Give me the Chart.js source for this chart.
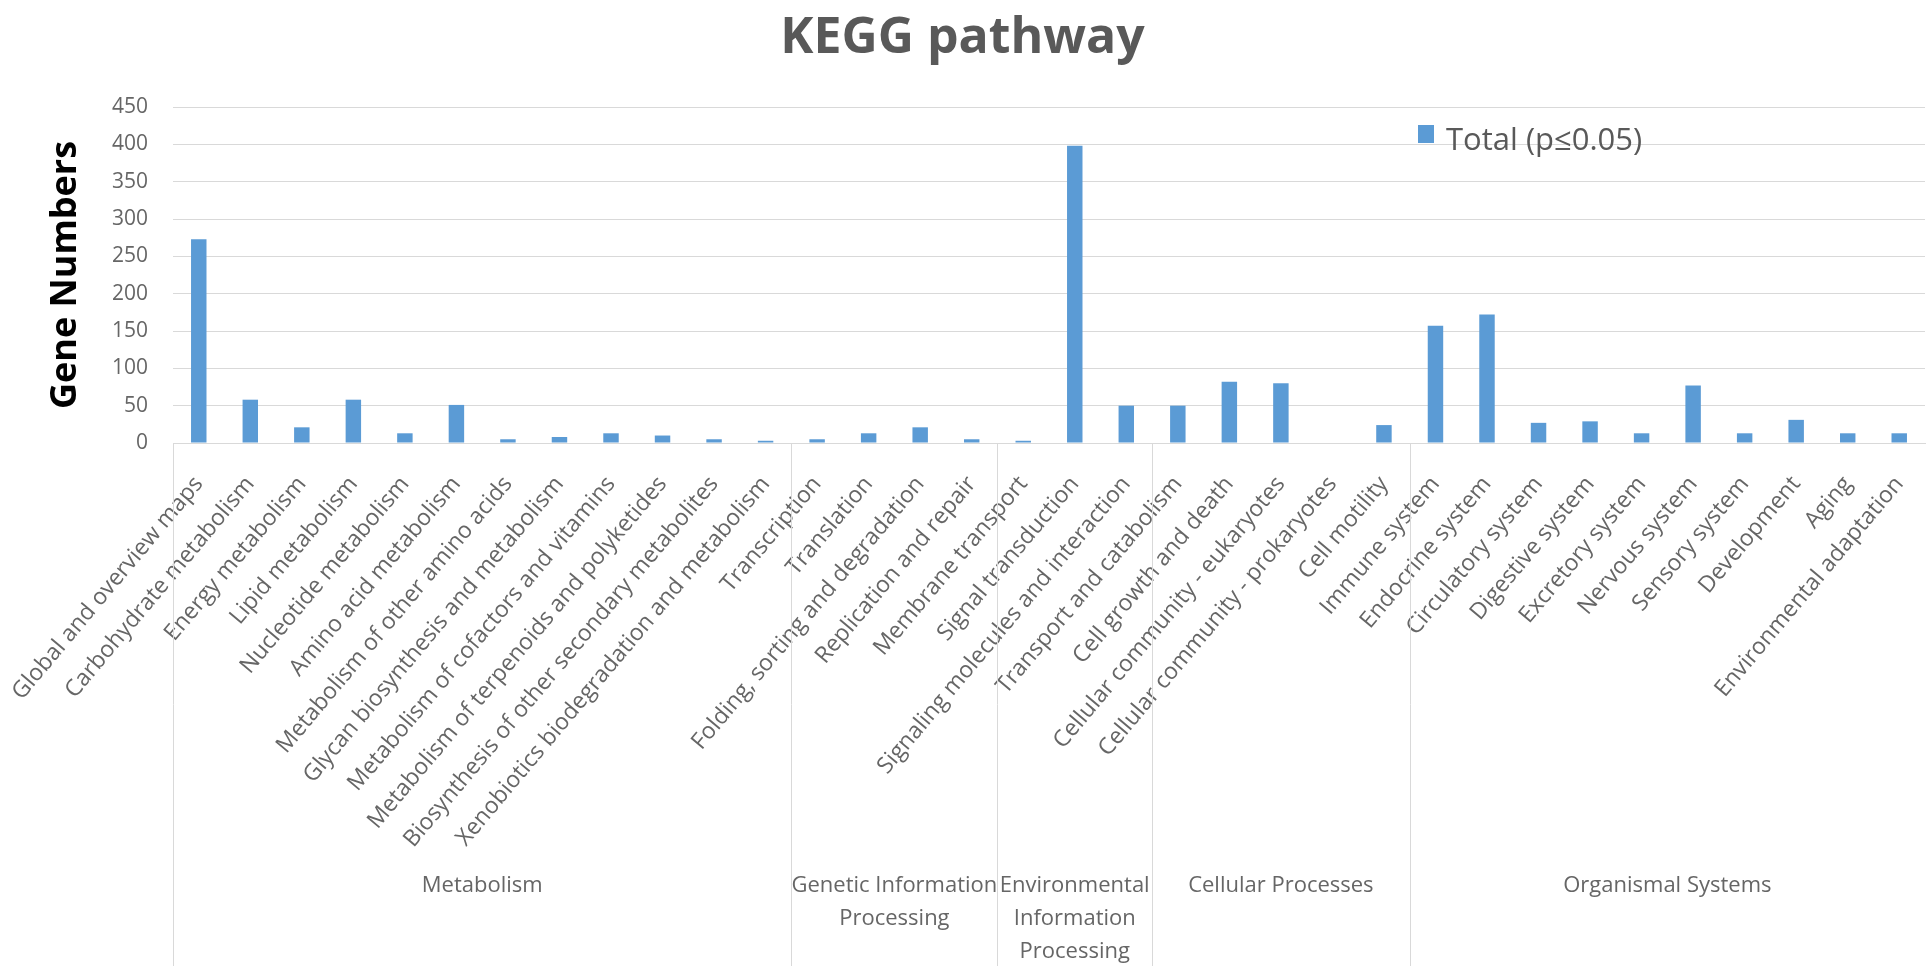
<!DOCTYPE html>
<html>
<head>
<meta charset="utf-8">
<title>KEGG pathway</title>
<script src="https://cdn.jsdelivr.net/npm/chart.js@4"></script>
<style>
  html, body { margin: 0; padding: 0; background: #fff; }
  #wrap { width: 1929px; height: 966px; }
</style>
</head>
<body>
<div id="wrap"><canvas id="keggChart" width="1929" height="966"></canvas></div>
<script>
// pathway categories, left to right
const pathways = [
  "Global and overview maps", "Carbohydrate metabolism", "Energy metabolism",
  "Lipid metabolism", "Nucleotide metabolism", "Amino acid metabolism",
  "Metabolism of other amino acids", "Glycan biosynthesis and metabolism",
  "Metabolism of cofactors and vitamins", "Metabolism of terpenoids and polyketides",
  "Biosynthesis of other secondary metabolites", "Xenobiotics biodegradation and metabolism",
  "Transcription", "Translation", "Folding, sorting and degradation", "Replication and repair",
  "Membrane transport", "Signal transduction", "Signaling molecules and interaction",
  "Transport and catabolism", "Cell growth and death", "Cellular community - eukaryotes",
  "Cellular community - prokaryotes", "Cell motility",
  "Immune system", "Endocrine system", "Circulatory system", "Digestive system",
  "Excretory system", "Nervous system", "Sensory system", "Development", "Aging",
  "Environmental adaptation"
];

const geneCounts = [
  273, 58, 21, 58, 13, 51, 5, 8, 13, 10, 5, 3,
  5, 13, 21, 5,
  3, 398, 50,
  50, 82, 80, 0, 24,
  157, 172, 27, 29, 13, 77, 13, 31, 13, 13
];

// top-level groups (lines of each name) and how many pathways each spans
const groupNames = [
  ["Metabolism"],
  ["Genetic Information", "Processing"],
  ["Environmental", "Information", "Processing"],
  ["Cellular Processes"],
  ["Organismal Systems"]
];
const groupSizes = [12, 4, 3, 5, 10];

const yTicks = [0, 50, 100, 150, 200, 250, 300, 350, 400, 450];

const FONT = "'Open Sans', 'Noto Sans', sans-serif";
const GRAY = "#666666";
const LINE = "#d9d9d9";
const BLUE = "#5b9bd5";

// group dividers + group names under the rotated labels
const groupAxis = {
  id: "groupAxis",
  afterDraw(chart) {
    const ctx = chart.ctx;
    const x = chart.scales.x;
    const top = chart.chartArea.bottom;
    const bottom = chart.height;
    ctx.save();
    ctx.strokeStyle = LINE;
    ctx.lineWidth = 1;
    ctx.fillStyle = GRAY;
    ctx.font = "22px " + FONT;
    ctx.textAlign = "center";
    ctx.textBaseline = "middle";
    let start = 0;
    groupSizes.forEach((n, g) => {
      const left = x.getPixelForValue(start - 0.5);
      const right = x.getPixelForValue(start + n - 0.5);
      ctx.beginPath();
      ctx.moveTo(Math.round(left) + 0.5, top);
      ctx.lineTo(Math.round(left) + 0.5, bottom);
      ctx.stroke();
      const cx = (left + right) / 2;
      groupNames[g].forEach((line, k) => {
        ctx.fillText(line, cx, 886 + k * 33);
      });
      start += n;
    });
    ctx.restore();
  }
};

// legend sitting inside the plot area
const innerLegend = {
  id: "innerLegend",
  afterDraw(chart) {
    const ctx = chart.ctx;
    const ds = chart.data.datasets[0];
    ctx.save();
    ctx.fillStyle = ds.backgroundColor;
    ctx.fillRect(1418, 125, 16, 18);
    ctx.fillStyle = "#595959";
    ctx.font = "31px " + FONT;
    ctx.textBaseline = "alphabetic";
    ctx.textAlign = "left";
    ctx.fillText(ds.label, 1446, 150);
    ctx.restore();
  }
};

new Chart(document.getElementById("keggChart"), {
  type: "bar",
  data: {
    labels: pathways,
    datasets: [{
      label: "Total (p\u22640.05)",
      data: geneCounts,
      backgroundColor: BLUE,
      barPercentage: 0.3,
      categoryPercentage: 1.0
    }]
  },
  options: {
    responsive: false,
    animation: false,
    layout: { padding: { top: 0, left: 0, right: 4, bottom: 0 } },
    plugins: {
      legend: { display: false },
      tooltip: { enabled: false },
      title: {
        display: true,
        text: "KEGG pathway",
        color: "#595959",
        font: { family: FONT, size: 50, weight: "bold" },
        padding: { top: 9, bottom: 38 }
      }
    },
    scales: {
      x: {
        grid: { display: false },
        border: { display: true, color: LINE },
        ticks: {
          autoSkip: false,
          minRotation: 50,
          maxRotation: 50,
          padding: 20,
          color: GRAY,
          font: { family: FONT, size: 23 }
        },
        afterFit(scale) {
          scale.height = 523;
          // rotated labels may hang past the y axis, don't squeeze the plot for them
          scale.paddingLeft = 0;
          scale.paddingRight = 0;
        }
      },
      y: {
        min: 0,
        max: 450,
        afterBuildTicks(scale) { scale.ticks = yTicks.map(v => ({ value: v })); },
        grid: { color: LINE, drawTicks: false },
        border: { display: false },
        ticks: {
          padding: 25,
          color: GRAY,
          font: { family: FONT, size: 21 }
        },
        title: {
          display: true,
          text: "Gene Numbers",
          color: "#000",
          font: { family: FONT, size: 36, weight: "bold" },
          padding: { top: 44, bottom: 0 }
        },
        afterFit(scale) { scale.width = 173; }
      }
    }
  },
  plugins: [groupAxis, innerLegend]
});
</script>
</body>
</html>
